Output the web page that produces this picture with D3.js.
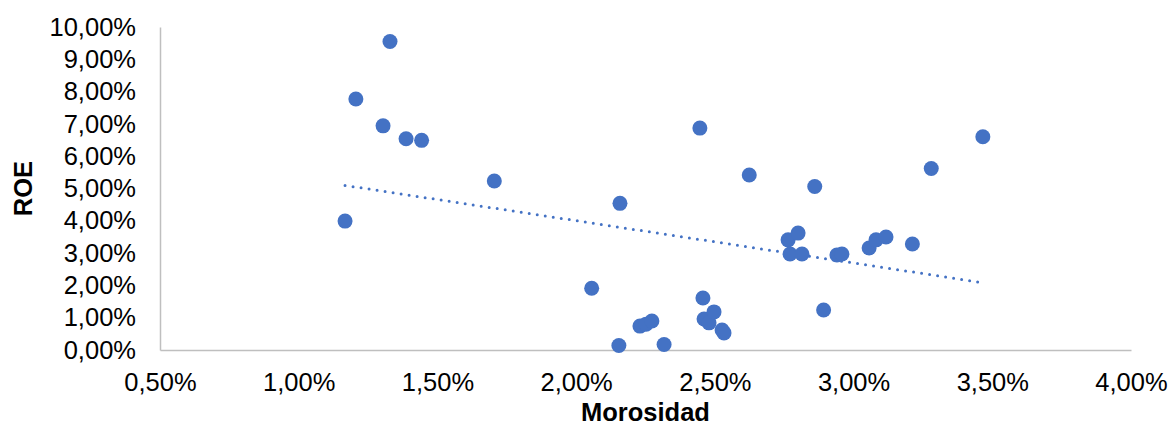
<!DOCTYPE html>
<html>
<head>
<meta charset="utf-8">
<script src="https://cdn.jsdelivr.net/npm/d3@7"></script>
<style>
  html, body { margin: 0; padding: 0; background: #ffffff; }
  svg { display: block; }
  text { font-family: "Liberation Sans", Arial, sans-serif; fill: #000; }
</style>
</head>
<body>
<svg id="chart" width="1173" height="428"></svg>
<script>
// Morosidad (x, %) vs ROE (y, %) for each entity
const morosidad = [1.167, 1.206, 1.329, 1.304, 1.387, 1.443, 1.705, 2.056, 2.158, 2.154,
                   2.230, 2.252, 2.273, 2.317, 2.446, 2.457, 2.461, 2.479, 2.497, 2.526,
                   2.533, 2.624, 2.764, 2.800, 2.771, 2.814, 2.860, 2.892, 2.940, 2.958,
                   3.056, 3.081, 3.117, 3.212, 3.280, 3.466];
const roe = [3.99, 7.77, 9.55, 6.94, 6.54, 6.49, 5.23, 1.91, 4.54, 0.14,
             0.74, 0.80, 0.90, 0.17, 6.87, 1.61, 0.96, 0.84, 1.18, 0.62,
             0.53, 5.42, 3.41, 3.62, 2.97, 2.97, 5.06, 1.24, 2.94, 2.97,
             3.16, 3.41, 3.50, 3.28, 5.62, 6.60];
const xTicks = [0.5, 1.0, 1.5, 2.0, 2.5, 3.0, 3.5, 4.0];
const yTicks = [0, 1, 2, 3, 4, 5, 6, 7, 8, 9, 10];
const xTitle = "Morosidad";
const yTitle = "ROE";

const pointColor = "#4472C4";
const axisColor = "#BFBFBF";

const svg = d3.select("#chart");
const x = d3.scaleLinear().domain([0.5, 4.0]).range([160, 1131]);
const y = d3.scaleLinear().domain([0, 10]).range([350, 27]);

const pct = v => v.toFixed(2).replace(".", ",") + "%";

// Axes: left and bottom lines only, no tick marks
const yAxis = d3.axisLeft(y).tickValues(yTicks).tickFormat(pct).tickSize(0).tickPadding(24);
const xAxis = d3.axisBottom(x).tickValues(xTicks).tickFormat(pct).tickSize(0).tickPadding(23);

const gy = svg.append("g").attr("transform", `translate(${x.range()[0]},0)`).call(yAxis);
const gx = svg.append("g").attr("transform", `translate(0,${y.range()[0]})`).call(xAxis);

[gx, gy].forEach(g => {
  g.select(".domain").attr("stroke", axisColor).attr("stroke-width", 1.5);
  g.selectAll(".tick text")
    .attr("fill", "#000")
    .style("font-family", "'Liberation Sans', Arial, sans-serif")
    .style("font-size", "25.5px");
});

// Linear trendline (least squares) across the x range of the data
const n = morosidad.length;
const mx = d3.mean(morosidad), my = d3.mean(roe);
let sxy = 0, sxx = 0;
for (let i = 0; i < n; i++) {
  sxy += (morosidad[i] - mx) * (roe[i] - my);
  sxx += (morosidad[i] - mx) ** 2;
}
const slope = sxy / sxx, intercept = my - slope * mx;
const [x0, x1] = d3.extent(morosidad);
const trend = [[x0, intercept + slope * x0], [x1, intercept + slope * x1]];

svg.append("path")
  .datum(trend)
  .attr("d", d3.line().x(d => x(d[0])).y(d => y(d[1])))
  .attr("fill", "none")
  .attr("stroke", pointColor)
  .attr("stroke-width", 3)
  .attr("stroke-linecap", "round")
  .attr("stroke-dasharray", "0 8.1");

// Scatter points
svg.append("g")
  .selectAll("circle")
  .data(morosidad.map((m, i) => [m, roe[i]]))
  .join("circle")
  .attr("cx", d => x(d[0]))
  .attr("cy", d => y(d[1]))
  .attr("r", 7.5)
  .attr("fill", pointColor);

// Axis titles
svg.append("text")
  .attr("x", (x.range()[0] + x.range()[1]) / 2)
  .attr("y", 421)
  .attr("text-anchor", "middle")
  .style("font-size", "25.5px")
  .style("font-weight", "bold")
  .text(xTitle);

svg.append("text")
  .attr("transform", `translate(32,${(y.range()[0] + y.range()[1]) / 2}) rotate(-90)`)
  .attr("text-anchor", "middle")
  .style("font-size", "25.5px")
  .style("font-weight", "bold")
  .text(yTitle);
</script>
</body>
</html>
